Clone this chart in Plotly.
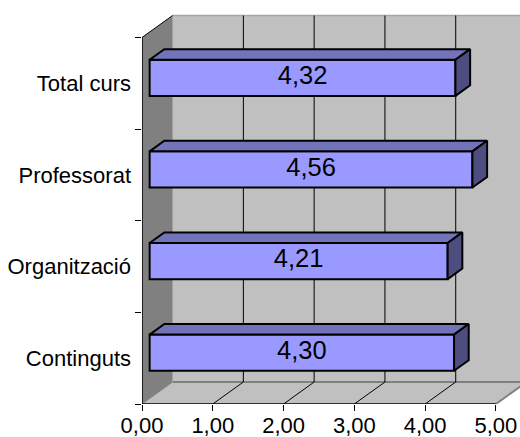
import plotly.graph_objects as go

categories = ["Continguts", "Organització", "Professorat", "Total curs"]
values = [4.30, 4.21, 4.56, 4.32]
x_ticks = [0, 1, 2, 3, 4, 5]
x_tick_labels = ["0,00", "1,00", "2,00", "3,00", "4,00", "5,00"]

# oblique projection of the depth direction, in axis units
DX, DY = 0.432, 0.24
NEAR, FAR = 0.25, 0.73
BAR_H = 0.395
XMAX, YMAX = 5, 4
FONT = "Liberation Sans, Arial, sans-serif"


def poly(pts):
    return "M" + " L".join(f"{a},{b}" for a, b in pts) + " Z"


shapes = []


def add_poly(pts, fill, line="rgba(0,0,0,0)", width=0):
    shapes.append(dict(type="path", path=poly(pts), xref="x", yref="y", layer="below",
                       fillcolor=fill, line=dict(color=line, width=width)))


def add_line(p, q, color, width):
    shapes.append(dict(type="line", x0=p[0], y0=p[1], x1=q[0], y1=q[1], xref="x", yref="y",
                       layer="below", line=dict(color=color, width=width)))


BX, BY = DX, DY
add_poly([(BX, BY), (XMAX + BX, BY), (XMAX + BX, YMAX + BY), (BX, YMAX + BY)], "#C0C0C0")
add_poly([(0, 0), (BX, BY), (BX, YMAX + BY), (0, YMAX)], "#808080")
add_poly([(0, 0), (XMAX, 0), (XMAX + BX, BY), (BX, BY)], "#C0C0C0")
add_line((BX, YMAX + BY), (XMAX + BX, YMAX + BY), "#A6A6A6", 1.5)
add_line((BX, BY), (XMAX + BX, BY), "#808080", 2)
add_line((XMAX, 0), (XMAX + BX, BY), "#808080", 2)
add_line((BX, BY), (BX, YMAX + BY), "#A0A0A0", 1)
for t in x_ticks[1:-1]:
    add_line((t, 0), (t + BX, BY), "black", 1)
    add_line((t + BX, BY), (t + BX, YMAX + BY), "black", 1)
add_line((0, YMAX), (BX, YMAX + BY), "black", 1)
add_line((0, 0), (BX, BY), "#808080", 1)

fig = go.Figure()

x0n = NEAR * DX
yc = [i + 0.5 + NEAR * DY for i in range(len(values))]

fig.add_trace(go.Bar(
    x=values, y=yc, base=[x0n] * len(values), orientation="h", width=BAR_H,
    marker=dict(color="#9999FF", line=dict(color="black", width=2)),
    hoverinfo="skip", showlegend=False,
))

depth = FAR - NEAR
for v, c in zip(values, yc):
    top = c + BAR_H / 2
    bot = c - BAR_H / 2
    xr = x0n + v
    fig.add_trace(go.Scatter(
        x=[x0n, xr, xr + depth * DX, x0n + depth * DX, x0n],
        y=[top, top, top + depth * DY, top + depth * DY, top],
        mode="lines", fill="toself", fillcolor="#7373B9",
        line=dict(color="black", width=2), hoverinfo="skip", showlegend=False,
    ))
    fig.add_trace(go.Scatter(
        x=[xr, xr + depth * DX, xr + depth * DX, xr, xr],
        y=[top, top + depth * DY, bot + depth * DY, bot, top],
        mode="lines", fill="toself", fillcolor="#4D4D80",
        line=dict(color="black", width=2), hoverinfo="skip", showlegend=False,
    ))

fig.add_trace(go.Scatter(
    x=[x0n + v / 2 for v in values], y=yc, mode="text",
    text=[f"{v:.2f}".replace(".", ",") for v in values],
    textposition="middle center", textfont=dict(family=FONT, size=25.5, color="black"),
    hoverinfo="skip", showlegend=False, cliponaxis=False,
))

fig.add_trace(go.Scatter(
    x=[0, 0, XMAX], y=[YMAX, 0, 0], mode="lines", line=dict(color="black", width=1.5),
    hoverinfo="skip", showlegend=False, cliponaxis=False,
))

fig.update_layout(
    width=520, height=437, autosize=False,
    margin=dict(l=142, r=0, t=10, b=33, pad=0),
    paper_bgcolor="white", plot_bgcolor="white",
    shapes=shapes, showlegend=False, font=dict(family=FONT, color="black"),
    xaxis=dict(range=[0, 5.34], tickvals=x_ticks, ticktext=x_tick_labels, ticks="outside",
               ticklen=6, tickwidth=1, tickcolor="black", showgrid=False, zeroline=False,
               showline=False, tickfont=dict(family=FONT, size=22), tickangle=0,
               automargin=False, ticklabelstandoff=-4),
    yaxis=dict(range=[0, 4.3], tickvals=[i + 0.5 for i in range(4)], ticktext=categories,
               ticks="", ticklen=0, showgrid=False, zeroline=False, showline=False,
               tickfont=dict(family=FONT, size=22), ticklabelstandoff=10, automargin=False,
               minor=dict(tickvals=[0, 1, 2, 3, 4], ticks="outside", ticklen=6,
                          tickcolor="black", tickwidth=1, showgrid=False)),
)

fig.write_html(
    "out.html",
    config=dict(displayModeBar=False),
    post_script="document.body.style.margin='0';document.documentElement.style.overflow='hidden';",
)
